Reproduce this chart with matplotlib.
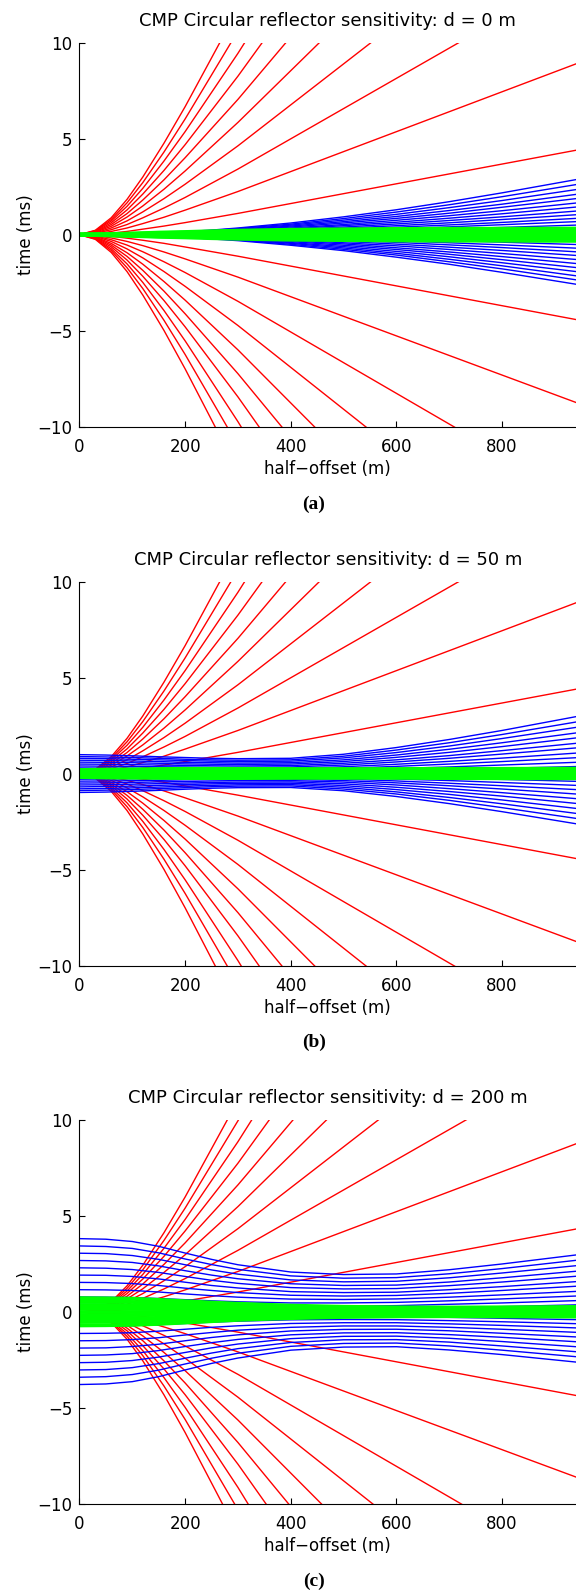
import matplotlib
matplotlib.use("Agg")
import matplotlib.pyplot as plt

# half-offset sample positions (m)
x_red = [0, 30, 60, 90, 120, 160, 200, 300, 940]
x_curve = [0, 50, 100, 150, 200, 250, 300, 400, 500, 600, 700, 800, 940]

# red curves, d = 0 m and d = 50 m (time in ms at x_red)
red_a = [
    [0, 0.02, 0.08, 0.17, 0.29, 0.45, 0.63, 1.11, 4.40],
    [0, 0.04, 0.17, 0.35, 0.58, 0.91, 1.28, 2.25, 8.90],
    [0, 0.07, 0.26, 0.53, 0.88, 1.39, 1.94, 3.42, 13.50],
    [0, 0.09, 0.35, 0.72, 1.19, 1.88, 2.63, 4.63, 18.29],
    [0, 0.12, 0.44, 0.92, 1.50, 2.37, 3.32, 5.85, 23.10],
    [0, 0.14, 0.53, 1.10, 1.81, 2.86, 4.01, 7.05, 27.90],
    [0, 0.16, 0.62, 1.29, 2.12, 3.35, 4.69, 8.26, 32.60],
    [0, 0.19, 0.71, 1.48, 2.42, 3.84, 5.37, 9.45, 37.30],
    [0, 0.21, 0.79, 1.66, 2.72, 4.31, 6.03, 10.61, 41.90],
    [0, 0.23, 0.88, 1.84, 3.01, 4.77, 6.67, 11.75, 46.40],
    [0, -0.02, -0.08, -0.18, -0.29, -0.45, -0.64, -1.12, -4.42],
    [0, -0.04, -0.17, -0.35, -0.57, -0.90, -1.26, -2.21, -8.74],
    [0, -0.07, -0.26, -0.54, -0.89, -1.41, -1.97, -3.47, -13.70],
    [0, -0.09, -0.35, -0.74, -1.21, -1.92, -2.69, -4.73, -18.69],
    [0, -0.12, -0.45, -0.94, -1.54, -2.44, -3.41, -6.00, -23.70],
    [0, -0.14, -0.54, -1.13, -1.86, -2.94, -4.12, -7.24, -28.60],
    [0, -0.17, -0.63, -1.32, -2.17, -3.43, -4.80, -8.45, -33.40],
    [0, -0.19, -0.73, -1.52, -2.49, -3.95, -5.53, -9.74, -38.50],
    [0, -0.22, -0.82, -1.72, -2.81, -4.46, -6.24, -10.98, -43.40],
    [0, -0.24, -0.92, -1.92, -3.15, -4.99, -6.99, -12.30, -48.60],
]

# red curves, d = 200 m
red_c = [
    [0, 0.01, 0.05, 0.13, 0.23, 0.39, 0.57, 1.04, 4.32],
    [0, 0.01, 0.10, 0.26, 0.47, 0.79, 1.15, 2.11, 8.76],
    [0, 0.02, 0.15, 0.40, 0.71, 1.20, 1.74, 3.21, 13.28],
    [0, 0.03, 0.21, 0.54, 0.96, 1.63, 2.36, 4.34, 17.98],
    [0, 0.03, 0.26, 0.68, 1.21, 2.06, 2.98, 5.49, 22.72],
    [0, 0.04, 0.32, 0.82, 1.46, 2.48, 3.60, 6.62, 27.40],
    [0, 0.05, 0.37, 0.96, 1.72, 2.90, 4.22, 7.75, 32.11],
    [0, 0.05, 0.43, 1.09, 1.96, 3.32, 4.82, 8.87, 36.73],
    [0, 0.06, 0.48, 1.23, 2.20, 3.73, 5.41, 9.96, 41.22],
    [0, 0.07, 0.53, 1.36, 2.44, 4.13, 5.99, 11.02, 45.64],
    [0, -0.01, -0.05, -0.13, -0.23, -0.39, -0.57, -1.05, -4.35],
    [0, -0.01, -0.10, -0.26, -0.46, -0.78, -1.13, -2.08, -8.60],
    [0, -0.02, -0.16, -0.40, -0.72, -1.22, -1.77, -3.25, -13.47],
    [0, -0.03, -0.21, -0.55, -0.98, -1.66, -2.41, -4.44, -18.38],
    [0, -0.03, -0.27, -0.69, -1.25, -2.11, -3.06, -5.63, -23.32],
    [0, -0.04, -0.33, -0.84, -1.50, -2.55, -3.70, -6.80, -28.15],
    [0, -0.05, -0.38, -0.98, -1.76, -2.97, -4.31, -7.93, -32.85],
    [0, -0.05, -0.44, -1.13, -2.02, -3.42, -4.97, -9.14, -37.83],
    [0, -0.06, -0.50, -1.27, -2.28, -3.86, -5.60, -10.30, -42.67],
    [0, -0.07, -0.55, -1.42, -2.55, -4.32, -6.28, -11.54, -47.79],
]

# blue curves (time in ms at x_curve)
blue_a = [
    [0, 0.01, 0.04, 0.09, 0.16, 0.24, 0.35, 0.61, 0.93, 1.30, 1.72, 2.18, 2.87],
    [0, 0.01, 0.04, 0.08, 0.14, 0.22, 0.32, 0.55, 0.84, 1.18, 1.56, 1.98, 2.61],
    [0, 0.01, 0.03, 0.07, 0.13, 0.20, 0.28, 0.50, 0.76, 1.06, 1.41, 1.78, 2.35],
    [0, 0.01, 0.03, 0.07, 0.12, 0.18, 0.25, 0.45, 0.68, 0.95, 1.26, 1.59, 2.10],
    [0, 0.01, 0.03, 0.06, 0.10, 0.16, 0.23, 0.40, 0.61, 0.85, 1.12, 1.43, 1.88],
    [0, 0, 0.02, 0.05, 0.09, 0.14, 0.20, 0.35, 0.53, 0.75, 0.99, 1.25, 1.65],
    [0, 0, 0.02, 0.04, 0.08, 0.12, 0.17, 0.31, 0.47, 0.65, 0.86, 1.09, 1.44],
    [0, 0, 0.02, 0.04, 0.07, 0.10, 0.15, 0.26, 0.40, 0.56, 0.74, 0.93, 1.23],
    [0, 0, 0.01, 0.03, 0.06, 0.09, 0.13, 0.22, 0.34, 0.47, 0.62, 0.79, 1.04],
    [0, 0, 0.01, 0.03, 0.05, 0.07, 0.10, 0.18, 0.27, 0.39, 0.51, 0.64, 0.85],
    [0, 0, 0.01, 0.02, 0.04, 0.06, 0.08, 0.14, 0.22, 0.31, 0.41, 0.52, 0.68],
    [0, 0, 0.01, 0.02, 0.03, 0.04, 0.06, 0.11, 0.16, 0.23, 0.30, 0.38, 0.50],
    [0, 0, -0.01, -0.02, -0.03, -0.04, -0.06, -0.11, -0.16, -0.23, -0.30, -0.39, -0.51],
    [0, 0, -0.01, -0.02, -0.04, -0.06, -0.08, -0.15, -0.23, -0.32, -0.42, -0.53, -0.70],
    [0, 0, -0.01, -0.03, -0.05, -0.08, -0.11, -0.19, -0.29, -0.40, -0.53, -0.67, -0.89],
    [0, 0, -0.02, -0.03, -0.06, -0.09, -0.13, -0.23, -0.35, -0.49, -0.65, -0.82, -1.08],
    [0, 0, -0.02, -0.04, -0.07, -0.11, -0.16, -0.27, -0.42, -0.58, -0.77, -0.98, -1.29],
    [0, 0, -0.02, -0.05, -0.08, -0.13, -0.18, -0.32, -0.48, -0.68, -0.90, -1.14, -1.50],
    [0, -0.01, -0.02, -0.05, -0.09, -0.15, -0.21, -0.36, -0.55, -0.77, -1.02, -1.30, -1.71],
    [0, -0.01, -0.03, -0.06, -0.11, -0.16, -0.23, -0.41, -0.62, -0.87, -1.15, -1.46, -1.92],
    [0, -0.01, -0.03, -0.07, -0.12, -0.18, -0.26, -0.45, -0.69, -0.97, -1.28, -1.62, -2.14],
    [0, -0.01, -0.03, -0.07, -0.13, -0.20, -0.28, -0.50, -0.76, -1.06, -1.41, -1.78, -2.35],
    [0, -0.01, -0.04, -0.08, -0.14, -0.22, -0.31, -0.55, -0.83, -1.17, -1.54, -1.96, -2.58],
]

blue_b = [
    [0.99, 0.97, 0.93, 0.88, 0.84, 0.80, 0.78, 0.80, 1.01, 1.36, 1.78, 2.25, 2.97],
    [0.89, 0.87, 0.84, 0.80, 0.75, 0.72, 0.70, 0.72, 0.91, 1.23, 1.61, 2.04, 2.69],
    [0.80, 0.78, 0.75, 0.72, 0.68, 0.65, 0.63, 0.65, 0.82, 1.10, 1.44, 1.83, 2.41],
    [0.70, 0.69, 0.66, 0.63, 0.59, 0.57, 0.55, 0.57, 0.72, 0.97, 1.27, 1.61, 2.12],
    [0.60, 0.59, 0.57, 0.54, 0.51, 0.49, 0.48, 0.50, 0.63, 0.85, 1.11, 1.41, 1.86],
    [0.50, 0.49, 0.47, 0.45, 0.43, 0.41, 0.40, 0.42, 0.54, 0.72, 0.94, 1.20, 1.58],
    [0.40, 0.39, 0.38, 0.36, 0.35, 0.33, 0.33, 0.35, 0.45, 0.61, 0.80, 1.02, 1.34],
    [0.30, 0.29, 0.29, 0.27, 0.26, 0.26, 0.26, 0.28, 0.36, 0.49, 0.64, 0.81, 1.07],
    [0.20, 0.20, 0.19, 0.19, 0.18, 0.18, 0.18, 0.21, 0.28, 0.38, 0.50, 0.63, 0.83],
    [0.10, 0.10, 0.10, 0.10, 0.10, 0.11, 0.11, 0.14, 0.20, 0.27, 0.35, 0.45, 0.59],
    [0.01, 0.01, 0.01, 0.02, 0.03, 0.04, 0.05, 0.08, 0.12, 0.17, 0.22, 0.28, 0.37],
    [-0.09, -0.09, -0.09, -0.08, -0.08, -0.08, -0.09, -0.10, -0.13, -0.18, -0.24, -0.30, -0.40],
    [-0.19, -0.19, -0.18, -0.17, -0.16, -0.16, -0.15, -0.16, -0.21, -0.28, -0.36, -0.46, -0.61],
    [-0.29, -0.28, -0.27, -0.26, -0.24, -0.23, -0.22, -0.23, -0.28, -0.38, -0.50, -0.63, -0.83],
    [-0.39, -0.38, -0.37, -0.35, -0.32, -0.30, -0.29, -0.29, -0.36, -0.48, -0.63, -0.80, -1.06],
    [-0.49, -0.48, -0.46, -0.43, -0.41, -0.38, -0.36, -0.36, -0.44, -0.59, -0.78, -0.99, -1.30],
    [-0.59, -0.58, -0.55, -0.52, -0.49, -0.46, -0.44, -0.43, -0.53, -0.71, -0.93, -1.17, -1.55],
    [-0.69, -0.67, -0.65, -0.61, -0.57, -0.53, -0.51, -0.50, -0.62, -0.83, -1.08, -1.37, -1.81],
    [-0.79, -0.77, -0.74, -0.70, -0.65, -0.61, -0.58, -0.57, -0.71, -0.95, -1.24, -1.57, -2.07],
    [-0.88, -0.86, -0.83, -0.78, -0.73, -0.68, -0.65, -0.64, -0.80, -1.06, -1.39, -1.77, -2.33],
    [-0.98, -0.96, -0.92, -0.87, -0.81, -0.76, -0.73, -0.72, -0.89, -1.19, -1.56, -1.98, -2.61],
]

blue_c = [
    [3.82, 3.79, 3.67, 3.42, 3.07, 2.74, 2.46, 2.08, 1.95, 1.98, 2.20, 2.50, 2.97],
    [3.44, 3.41, 3.31, 3.08, 2.76, 2.47, 2.22, 1.88, 1.76, 1.79, 1.99, 2.26, 2.69],
    [3.06, 3.04, 2.94, 2.74, 2.46, 2.19, 1.97, 1.67, 1.57, 1.60, 1.78, 2.03, 2.41],
    [2.68, 2.66, 2.58, 2.40, 2.15, 1.92, 1.73, 1.47, 1.38, 1.40, 1.56, 1.78, 2.12],
    [2.30, 2.28, 2.21, 2.06, 1.85, 1.65, 1.49, 1.27, 1.20, 1.22, 1.37, 1.56, 1.86],
    [1.92, 1.91, 1.85, 1.72, 1.55, 1.38, 1.25, 1.06, 1.01, 1.03, 1.16, 1.32, 1.58],
    [1.54, 1.53, 1.48, 1.38, 1.24, 1.12, 1.01, 0.87, 0.83, 0.86, 0.97, 1.12, 1.34],
    [1.16, 1.15, 1.12, 1.04, 0.94, 0.85, 0.77, 0.67, 0.65, 0.68, 0.77, 0.89, 1.07],
    [0.78, 0.77, 0.75, 0.70, 0.64, 0.58, 0.53, 0.47, 0.47, 0.50, 0.58, 0.68, 0.83],
    [0.40, 0.40, 0.39, 0.37, 0.34, 0.31, 0.29, 0.28, 0.30, 0.33, 0.40, 0.47, 0.59],
    [0.02, 0.02, 0.02, 0.03, 0.04, 0.04, 0.06, 0.09, 0.12, 0.17, 0.22, 0.28, 0.37],
    [-0.36, -0.36, -0.35, -0.33, -0.30, -0.27, -0.25, -0.22, -0.22, -0.24, -0.28, -0.33, -0.40],
    [-0.74, -0.73, -0.71, -0.66, -0.60, -0.53, -0.48, -0.41, -0.39, -0.40, -0.45, -0.51, -0.61],
    [-1.12, -1.11, -1.08, -1.00, -0.90, -0.80, -0.72, -0.60, -0.56, -0.56, -0.62, -0.70, -0.83],
    [-1.50, -1.49, -1.44, -1.34, -1.20, -1.07, -0.95, -0.80, -0.73, -0.73, -0.80, -0.90, -1.06],
    [-1.88, -1.87, -1.80, -1.68, -1.50, -1.33, -1.19, -0.99, -0.91, -0.90, -0.98, -1.11, -1.30],
    [-2.26, -2.24, -2.17, -2.01, -1.80, -1.60, -1.43, -1.19, -1.09, -1.08, -1.18, -1.32, -1.55],
    [-2.64, -2.62, -2.53, -2.35, -2.11, -1.87, -1.67, -1.39, -1.27, -1.26, -1.37, -1.54, -1.81],
    [-3.02, -3.00, -2.90, -2.69, -2.41, -2.14, -1.91, -1.59, -1.45, -1.44, -1.57, -1.77, -2.07],
    [-3.40, -3.37, -3.26, -3.03, -2.71, -2.41, -2.15, -1.79, -1.64, -1.62, -1.77, -1.99, -2.33],
    [-3.78, -3.75, -3.63, -3.37, -3.02, -2.68, -2.40, -1.99, -1.83, -1.81, -1.98, -2.22, -2.61],
]

# green curves (time in ms at x_curve)
green_a = [
    [0, 0.03, 0.06, 0.11, 0.14, 0.18, 0.21, 0.26, 0.28, 0.30, 0.31, 0.31, 0.32],
    [0, 0.02, 0.05, 0.08, 0.11, 0.13, 0.16, 0.19, 0.21, 0.22, 0.23, 0.24, 0.24],
    [0, 0.02, 0.03, 0.05, 0.07, 0.09, 0.10, 0.13, 0.14, 0.15, 0.15, 0.16, 0.16],
    [0, 0.01, 0.02, 0.03, 0.04, 0.04, 0.05, 0.06, 0.07, 0.07, 0.08, 0.08, 0.08],
    [0, 0, 0, 0, 0, 0, 0, 0, 0, 0, 0, 0, 0],
    [0, -0.01, -0.02, -0.03, -0.04, -0.04, -0.05, -0.06, -0.07, -0.07, -0.08, -0.08, -0.08],
    [0, -0.02, -0.03, -0.05, -0.07, -0.09, -0.10, -0.13, -0.14, -0.15, -0.15, -0.16, -0.16],
    [0, -0.02, -0.05, -0.08, -0.11, -0.13, -0.16, -0.19, -0.21, -0.22, -0.23, -0.24, -0.24],
    [0, -0.03, -0.06, -0.11, -0.14, -0.18, -0.21, -0.26, -0.28, -0.30, -0.31, -0.31, -0.32],
]

green_b = [
    [0.19, 0.21, 0.22, 0.24, 0.25, 0.25, 0.25, 0.24, 0.24, 0.24, 0.25, 0.25, 0.26],
    [0.14, 0.16, 0.17, 0.18, 0.19, 0.19, 0.19, 0.18, 0.18, 0.19, 0.19, 0.20, 0.20],
    [0.09, 0.10, 0.11, 0.12, 0.12, 0.12, 0.12, 0.12, 0.12, 0.12, 0.12, 0.13, 0.13],
    [0.05, 0.06, 0.06, 0.06, 0.07, 0.07, 0.07, 0.06, 0.06, 0.07, 0.07, 0.07, 0.07],
    [0, 0, 0, 0, 0, 0, 0, 0, 0, 0, 0, 0, 0],
    [-0.04, -0.05, -0.05, -0.05, -0.05, -0.06, -0.06, -0.05, -0.05, -0.06, -0.06, -0.06, -0.06],
    [-0.09, -0.10, -0.11, -0.11, -0.12, -0.12, -0.12, -0.11, -0.11, -0.11, -0.12, -0.12, -0.12],
    [-0.14, -0.15, -0.16, -0.17, -0.18, -0.18, -0.18, -0.17, -0.17, -0.17, -0.17, -0.18, -0.18],
    [-0.18, -0.20, -0.21, -0.22, -0.23, -0.23, -0.23, -0.22, -0.22, -0.22, -0.23, -0.24, -0.24],
]

green_c = [
    [0.72, 0.71, 0.69, 0.63, 0.56, 0.49, 0.43, 0.33, 0.27, 0.24, 0.23, 0.24, 0.26],
    [0.54, 0.53, 0.52, 0.48, 0.42, 0.37, 0.32, 0.25, 0.21, 0.18, 0.18, 0.19, 0.20],
    [0.36, 0.36, 0.34, 0.32, 0.28, 0.25, 0.21, 0.17, 0.14, 0.12, 0.12, 0.12, 0.13],
    [0.18, 0.18, 0.17, 0.16, 0.14, 0.12, 0.11, 0.08, 0.07, 0.06, 0.06, 0.07, 0.07],
    [0, 0, 0, 0, 0, 0, 0, 0, 0, 0, 0, 0, 0],
    [-0.17, -0.17, -0.16, -0.15, -0.13, -0.12, -0.10, -0.08, -0.06, -0.06, -0.05, -0.06, -0.06],
    [-0.35, -0.35, -0.33, -0.31, -0.27, -0.24, -0.21, -0.16, -0.13, -0.11, -0.11, -0.11, -0.12],
    [-0.52, -0.51, -0.50, -0.46, -0.41, -0.35, -0.31, -0.24, -0.19, -0.17, -0.17, -0.17, -0.18],
    [-0.70, -0.69, -0.67, -0.62, -0.55, -0.48, -0.41, -0.32, -0.26, -0.23, -0.22, -0.23, -0.24],
]

titles = ["CMP Circular reflector sensitivity: d = 0 m",
          "CMP Circular reflector sensitivity: d = 50 m",
          "CMP Circular reflector sensitivity: d = 200 m"]
tags = ["(a)", "(b)", "(c)"]
reds = [red_a, red_a, red_c]
blues = [blue_a, blue_b, blue_c]
greens = [green_a, green_b, green_c]

fig = plt.figure(figsize=(5.76, 15.95), dpi=100)
bottoms = [0.7325, 0.3946, 0.0571]
tag_y = [0.684, 0.3462, 0.0083]

for i in range(3):
    ax = fig.add_axes([0.138, bottoms[i], 0.862, 0.2407])
    for t in reds[i]:
        ax.plot(x_red, t, color=(1, 0, 0), lw=1.0)
    for t in blues[i]:
        ax.plot(x_curve, t, color=(0, 0, 1), lw=1.0)
    for t in greens[i]:
        ax.plot(x_curve, t, color=(0, 1, 0), lw=2.8, solid_capstyle="butt")
    ax.set_xlim(0, 940)
    ax.set_ylim(-10, 10)
    ax.set_xticks([0, 200, 400, 600, 800])
    ax.set_yticks([-10, -5, 0, 5, 10])
    ax.spines["top"].set_visible(False)
    ax.spines["right"].set_visible(False)
    ax.tick_params(direction="in", length=4, width=0.8, labelsize=12, pad=5)
    ax.tick_params(axis="x", pad=8)
    ax.set_title(titles[i], fontsize=13, pad=12)
    ax.set_xlabel("half\u2212offset (m)", fontsize=12, labelpad=3)
    ax.set_ylabel("time (ms)", fontsize=12, labelpad=2)
    fig.text(0.545, tag_y[i], tags[i], ha="center", va="center",
             fontsize=14, fontweight="bold", family="Liberation Serif")

fig.savefig("out.png", dpi=100)
